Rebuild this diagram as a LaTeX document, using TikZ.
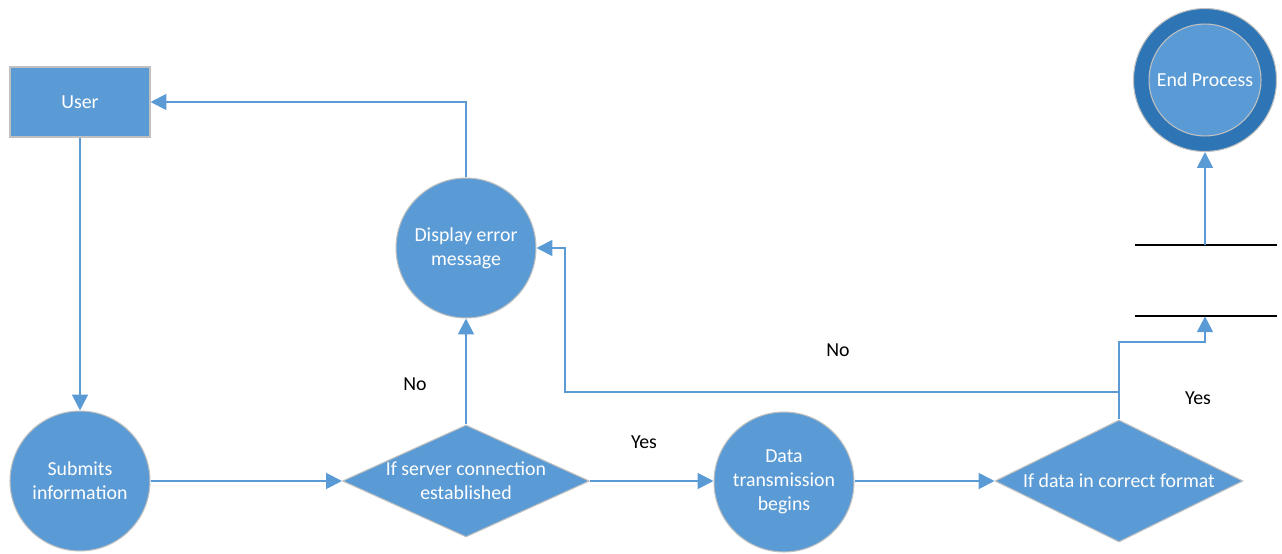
\documentclass[tikz,border=0pt]{standalone}
\usepackage{fontspec}
\setmainfont{Carlito}
\usetikzlibrary{arrows.meta,shapes.geometric}
\definecolor{boxblue}{HTML}{5B9BD5}
\definecolor{darkblue}{HTML}{2E75B6}
\definecolor{rimgray}{HTML}{C0C0C0}
\tikzset{
  flow/.style={draw=boxblue, line width=1.1pt, -{Triangle[length=9pt,width=9pt]}},
  plain/.style={draw=boxblue, line width=1.1pt},
  shapetext/.style={text=white, align=center, font=\fontsize{11.3}{13.6}\selectfont},
  proc/.style={shapetext, circle, fill=boxblue, draw=rimgray, line width=0.6pt, minimum size=2.8cm, inner sep=0pt},
  entity/.style={shapetext, rectangle, fill=boxblue, draw=rimgray, line width=0.6pt, minimum width=2.8cm, minimum height=1.4cm},
  decision/.style={shapetext, diamond, fill=boxblue, draw=rimgray, line width=0.6pt, inner sep=0pt, aspect=2.2},
  answer/.style={font=\fontsize{11.3}{13.6}\selectfont}
}
\begin{document}
\begin{tikzpicture}[x=0.02cm, y=-0.02cm]
			%%%%% START %%%%%
			\useasboundingbox (0, 0) rectangle (1282, 554);
			
			\node[entity] (user) at (80, 102) {User};
			\node[proc] (submit) at (80, 481) {Submits\\information};
			\node[decision, minimum width=4.94cm, minimum height=2.24cm] (srvcheck) at (466, 481) {If server connection\\established};
			\node[proc] (errmsg) at (466, 248) {Display error\\message};
			\node[proc] (datatx) at (784, 482) {Data\\transmission\\begins};
			\node[decision, minimum width=4.96cm, minimum height=2.44cm] (fmtcheck) at (1119, 481) {If data in correct format};
			
			\node[circle, fill=darkblue, draw=rimgray, line width=0.6pt, minimum size=2.86cm] (endproc) at (1205, 80) {};
			\node[proc, minimum size=2.24cm] at (endproc) {End Process};
			
			\node[minimum width=2.84cm, minimum height=1.42cm, inner sep=0pt] (store) at (1206, 280.5) {};
			\draw[black, line width=1pt] (store.north west) -- (store.north east);
			\draw[black, line width=1pt] (store.south west) -- (store.south east);
			
			\coordinate (split) at (1119, 392);
			\coordinate (nobend) at (565, 392);
			\coordinate (yesrise) at (1119, 342);
			
			\draw[flow] (user.south) -- (submit.north);
			\draw[flow] (submit.east |- srvcheck.west) -- (srvcheck.west);
			\draw[flow] (srvcheck.north) -- (errmsg.south);
			\draw[flow] (errmsg.north) |- (user.east);
			\draw[flow] (srvcheck.east) -- (datatx.west |- srvcheck.east);
			\draw[flow] (datatx.east |- fmtcheck.west) -- (fmtcheck.west);
			\draw[plain] (fmtcheck.north) -- (split);
			\draw[flow] (split) -- (nobend) |- (errmsg.east);
			\draw[flow] (split) -- (yesrise) -| (endproc.south |- store.south);
			\draw[flow] (endproc.south |- store.north) -- (endproc.south);
			
			\node[answer] (nosrv) at (415, 384) {No};
			\node[answer] (yessrv) at (644, 442) {Yes};
			\node[answer] (nofmt) at (838, 350) {No};
			\node[answer] (yesfmt) at (1198, 398) {Yes};
			%%%%% END %%%%%
\end{tikzpicture}
\end{document}
